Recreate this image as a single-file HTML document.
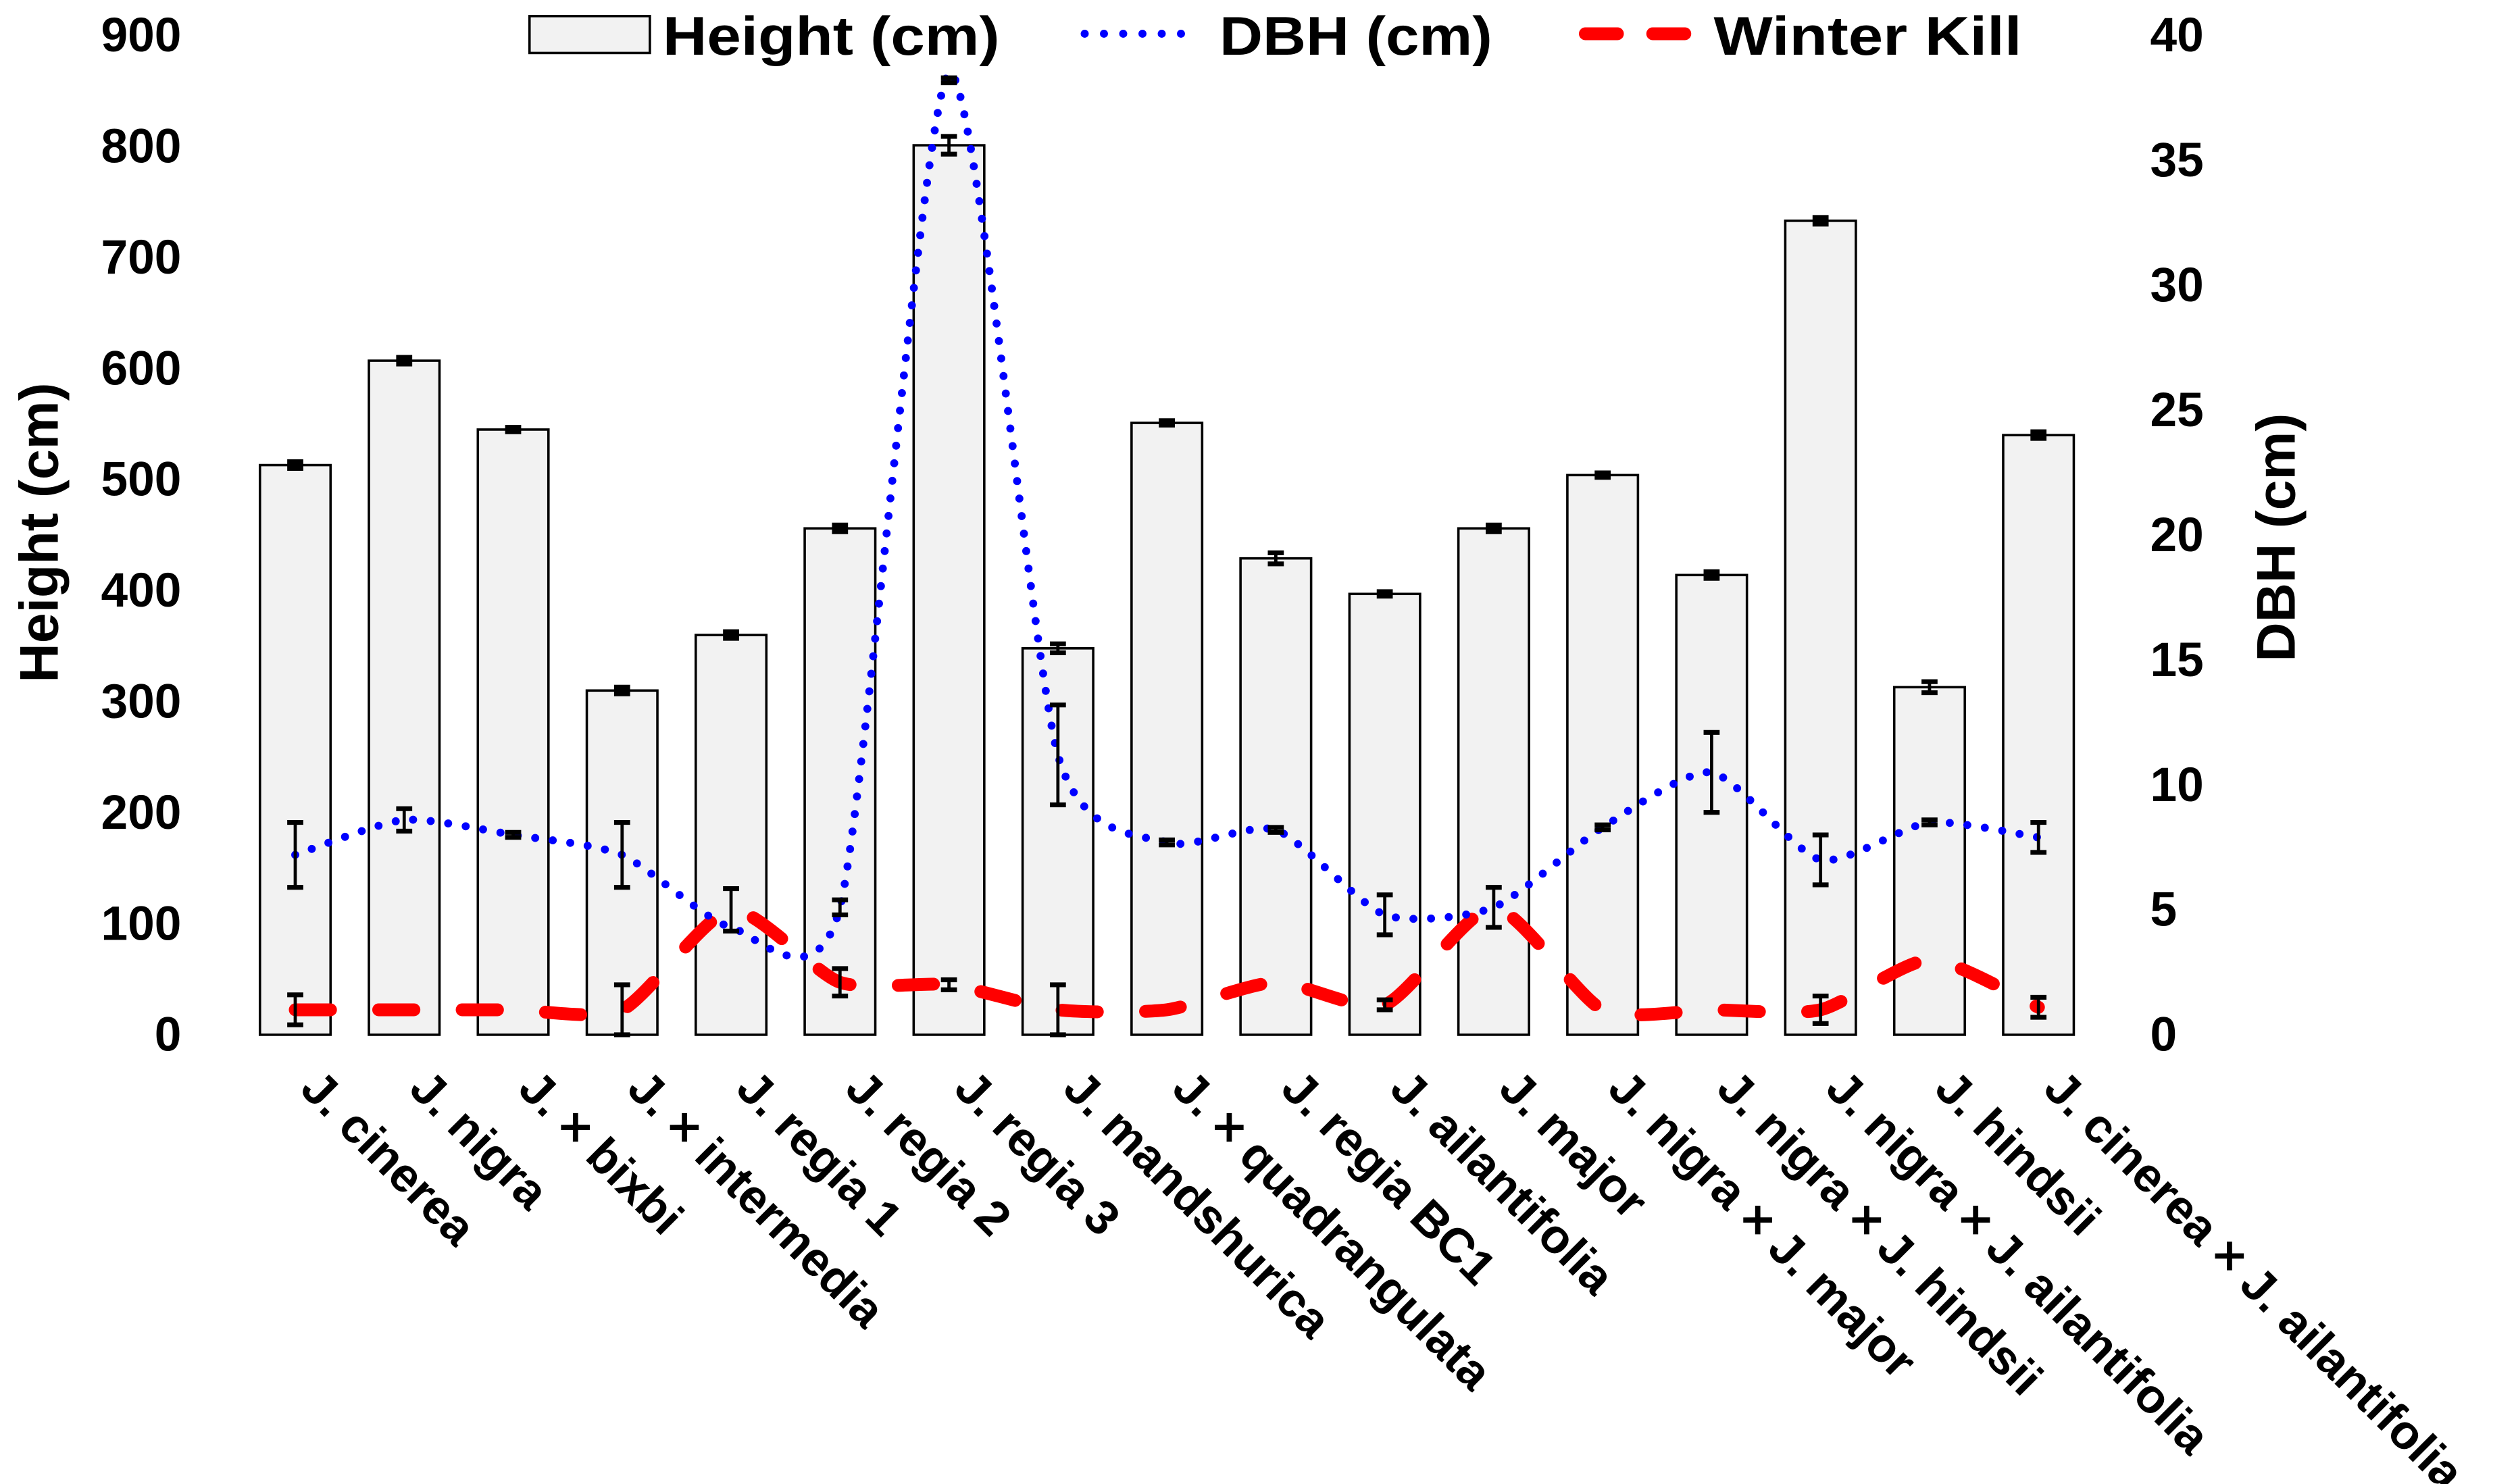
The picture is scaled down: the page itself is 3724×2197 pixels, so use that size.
<!DOCTYPE html>
<html><head><meta charset="utf-8"><style>
html,body{margin:0;padding:0;background:#fff}
svg{display:block}
text{font-family:"Liberation Sans Narrow","Liberation Sans",sans-serif;fill:#000}
</style></head><body>
<svg id="chart" width="3724" height="2197" viewBox="0 0 1568 925" xmlns="http://www.w3.org/2000/svg">
<defs><clipPath id="plotclip"><rect x="100" y="22" width="1260" height="640"/></clipPath></defs>
<g id="g-axes"></g>
<g id="g-bars"></g>
<g id="g-lines" clip-path="url(#plotclip)"></g>
<g id="g-err"></g>
<g id="g-xlab"></g>
<g>
  <g>
    <rect x="330" y="10" width="75" height="23" fill="#f2f2f2" stroke="#000" stroke-width="1.5"/>
    <text x="413" y="34" font-size="34" font-weight="bold" textLength="210" lengthAdjust="spacingAndGlyphs">Height (cm)</text>
  </g>
  <g>
    <line x1="676" y1="21" x2="745" y2="21" stroke="#0000ff" stroke-width="5" stroke-dasharray="0 12" stroke-linecap="round"/>
    <text x="760" y="34" font-size="34" font-weight="bold" textLength="170" lengthAdjust="spacingAndGlyphs">DBH (cm)</text>
  </g>
  <g>
    <line x1="988" y1="21" x2="1064" y2="21" stroke="#ff0000" stroke-width="8" stroke-dasharray="20 22" stroke-linecap="round"/>
    <text x="1068" y="34" font-size="34" font-weight="bold" textLength="192" lengthAdjust="spacingAndGlyphs">Winter Kill</text>
  </g>
</g>
<text transform="translate(36,332) rotate(-90)" text-anchor="middle" font-size="34" font-weight="bold" font-family="Liberation Sans">Height (cm)</text>
<text transform="translate(1430,335) rotate(-90)" text-anchor="middle" font-size="34" font-weight="bold" font-family="Liberation Sans">DBH (cm)</text>
</svg>
<script>
const categories=["J. cinerea","J. nigra","J. × bixbi","J. × intermedia","J. regia 1","J. regia 2","J. regia 3","J. mandshurica","J. × quadrangulata","J. regia BC1","J. ailantifolia","J. major","J. nigra × J. major","J. nigra × J. hindsii","J. nigra × J. ailantifolia","J. hindsii","J. cinerea × J. ailantifolia"];
const heightVals=[513,607,545,310,360,456,801,348,551,429,397,456,504,414,733,313,540];
const heightErr=[3,3,2,3,3,3,8,4,2,5,2,3,2,3,3,5,3];
const dbhVals=[7.2,8.6,8.0,7.2,4.3,5.1,38.5,11.2,7.7,8.2,4.8,5.1,8.3,10.5,7.0,8.5,7.9];
const dbhErr=[1.3,0.45,0.1,1.3,0,0.3,0.1,2.0,0.1,0.1,0.8,0.8,0.1,1.6,1.0,0.1,0.6];
const wkVals=[1,1,1,1,5,2.1,2,1,1,2.1,1.2,5.1,1,1,1,3,1.1];
const wkErr=[0.6,0,0,1,0.85,0.55,0.2,1,0,0,0.2,0,0,0,0.55,0,0.4];
const leftTicks=[0,100,200,300,400,500,600,700,800,900];
const rightTicks=[0,5,10,15,20,25,30,35,40];

const NS="http://www.w3.org/2000/svg";
const Y0=645,Y1=22,X0=184,PITCH=67.9,BW=44;
const yL=v=>Y0-(v/900)*(Y0-Y1);
const yR=v=>Y0-(v/40)*(Y0-Y1);
const xC=i=>X0+PITCH*i;
function mk(tag,attrs,parent){const e=document.createElementNS(NS,tag);for(const k in attrs)e.setAttribute(k,attrs[k]);parent.appendChild(e);return e;}
const gA=document.getElementById('g-axes'),gB=document.getElementById('g-bars'),gL=document.getElementById('g-lines'),gE=document.getElementById('g-err'),gX=document.getElementById('g-xlab');

leftTicks.forEach(v=>{const t=mk('text',{x:113,y:yL(v)+10,'text-anchor':'end','font-size':30,'font-weight':'bold'},gA);t.textContent=v;

});
rightTicks.forEach(v=>{const t=mk('text',{x:1340,y:yR(v)+10,'font-size':30,'font-weight':'bold'},gA);t.textContent=v;

});

heightVals.forEach((v,i)=>{const r=mk('rect',{x:xC(i)-BW/2,y:yL(v),width:BW,height:Y0-yL(v),fill:'#f2f2f2',stroke:'#000','stroke-width':1.5},gB);

});

function smooth(pts){let d=`M${pts[0][0]},${pts[0][1]}`;for(let i=0;i<pts.length-1;i++){const p0=pts[Math.max(0,i-1)],p1=pts[i],p2=pts[i+1],p3=pts[Math.min(pts.length-1,i+2)];const t=1/9;d+=` C${p1[0]+(p2[0]-p0[0])*t},${p1[1]+(p2[1]-p0[1])*t} ${p2[0]-(p3[0]-p1[0])*t},${p2[1]-(p3[1]-p1[1])*t} ${p2[0]},${p2[1]}`;}return d;}
const wk=mk('path',{d:smooth(wkVals.map((v,i)=>[xC(i),yR(v)])),fill:'none',stroke:'#ff0000','stroke-width':8,'stroke-dasharray':'22 30','stroke-linecap':'round'},gL);


const db=mk('path',{d:smooth(dbhVals.map((v,i)=>[xC(i),yR(v)])),fill:'none',stroke:'#0000ff','stroke-width':5,'stroke-dasharray':'0 11','stroke-linecap':'round'},gL);



function err(x,yc,lo,hi,name){const g=mk('g',{},gE);

mk('line',{x1:x,x2:x,y1:lo,y2:hi,stroke:'#000','stroke-width':2},g);
mk('line',{x1:x-5,x2:x+5,y1:lo,y2:lo,stroke:'#000','stroke-width':3},g);
mk('line',{x1:x-5,x2:x+5,y1:hi,y2:hi,stroke:'#000','stroke-width':3},g);}
heightVals.forEach((v,i)=>err(xC(i),0,yL(v-heightErr[i]),yL(v+heightErr[i]),'height-error-'+i));
dbhVals.forEach((v,i)=>{if(dbhErr[i]>0)err(xC(i),0,yR(Math.min(38.2,v)-dbhErr[i]),yR(Math.min(38.2,v)+dbhErr[i]),'dbh-error-'+i);});
wkVals.forEach((v,i)=>{if(wkErr[i]>0)err(xC(i),0,yR(v-wkErr[i]),yR(v+wkErr[i]),'wk-error-'+i);});

categories.forEach((c,i)=>{const x=xC(i)+2,y=680;const t=mk('text',{x:x,y:y,transform:`rotate(45 ${x} ${y})`,'font-size':30,'font-weight':'bold','font-family':'Liberation Sans'},gX);t.textContent=c;

});
</script>
</body></html>
